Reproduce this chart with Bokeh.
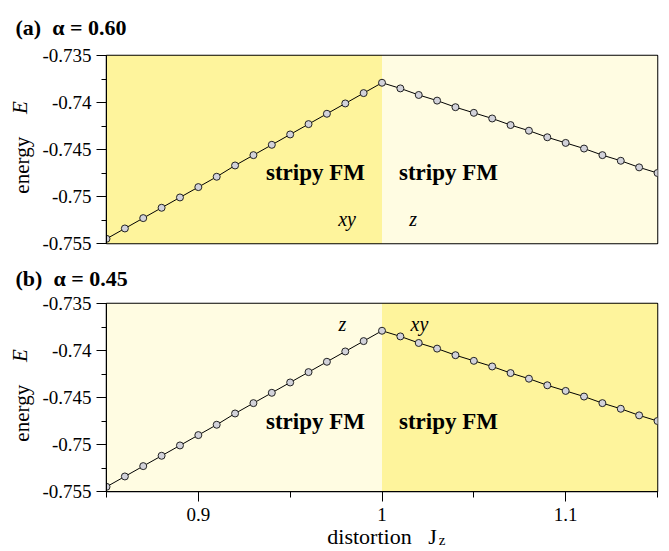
from bokeh.plotting import figure
from bokeh.layouts import column
from bokeh.models import FixedTicker, LinearAxis, Range1d
from bokeh.embed import file_html
from bokeh.resources import INLINE

# ---- data ----
jz = [0.85, 0.86, 0.87, 0.88, 0.89, 0.90, 0.91, 0.92, 0.93, 0.94, 0.95, 0.96,
      0.97, 0.98, 0.99, 1.00, 1.01, 1.02, 1.03, 1.04, 1.05, 1.06, 1.07, 1.08,
      1.09, 1.10, 1.11, 1.12, 1.13, 1.14, 1.15]
energy_a = [-0.7545, -0.7534, -0.7523, -0.7512, -0.7501, -0.7490, -0.7479, -0.7467,
            -0.7456, -0.7445, -0.7434, -0.7423, -0.7412, -0.7401, -0.7390, -0.7379,
            -0.7385, -0.7392, -0.7398, -0.7405, -0.7411, -0.7417, -0.7424, -0.7430,
            -0.7437, -0.7443, -0.7449, -0.7456, -0.7462, -0.7469, -0.7475]
energy_b = [-0.7545, -0.7534, -0.7523, -0.7512, -0.7501, -0.7490, -0.7479, -0.7467,
            -0.7456, -0.7445, -0.7434, -0.7423, -0.7412, -0.7401, -0.7390, -0.7379,
            -0.7385, -0.7392, -0.7398, -0.7405, -0.7411, -0.7417, -0.7424, -0.7430,
            -0.7437, -0.7443, -0.7449, -0.7456, -0.7462, -0.7469, -0.7475]

x_range_lim = [0.85, 1.15]
y_range_lim = [-0.755, -0.735]
boundary = 1.0
x_major = [0.9, 1.0, 1.1]
x_minor = [0.85, 0.95, 1.05, 1.15]
y_major = [-0.755, -0.75, -0.745, -0.74, -0.735]
y_minor = [-0.7525, -0.7475, -0.7425, -0.7375]
y_labels = {-0.755: "-0.755", -0.75: "-0.75", -0.745: "-0.745", -0.74: "-0.74", -0.735: "-0.735"}
x_labels = {0.9: "0.9", 1.0: "1", 1.1: "1.1"}

NB = "\u00a0"
titles = ["(a)" + NB * 2 + "\u03b1 = 0.60", "(b)" + NB * 2 + "\u03b1 = 0.45"]
phase_name = "stripy FM"
bond_a = ["xy", "z"]
bond_b = ["z", "xy"]

DARK = "#FEF49C"
LIGHT = "#FFFCE2"
SERIF = "Liberation Serif"


def make_panel(energy, title, left_color, right_color, height, top, bottom, show_x, title_standoff):
    p = figure(width=669, height=height, output_backend="svg", toolbar_location=None,
               x_range=Range1d(*x_range_lim), y_range=Range1d(*y_range_lim),
               min_border_left=106, min_border_right=12,
               min_border_top=top, min_border_bottom=bottom, title=title)
    p.grid.visible = False
    p.outline_line_color = "black"
    p.outline_line_width = 1.5
    p.outline_line_alpha = 1.0
    p.background_fill_color = "white"
    p.border_fill_color = "white"

    p.title.align = "left"
    p.title.offset = -91
    p.title.standoff = title_standoff
    p.title.vertical_align = "top"
    p.title.text_font = SERIF
    p.title.text_font_style = "bold"
    p.title.text_font_size = "22px"
    p.title.text_color = "black"

    p.quad(left=[x_range_lim[0]], right=[boundary], bottom=[y_range_lim[0]], top=[y_range_lim[1]],
           fill_color=left_color, line_color=None)
    p.quad(left=[boundary], right=[x_range_lim[1]], bottom=[y_range_lim[0]], top=[y_range_lim[1]],
           fill_color=right_color, line_color=None)

    p.line(jz, energy, line_color="black", line_width=1)
    p.scatter(jz, energy, size=7, fill_color="#D2D2DA", line_color="#222222", line_width=1)

    ya = p.yaxis[0]
    ya.ticker = FixedTicker(ticks=y_major, minor_ticks=y_minor)
    ya.major_label_overrides = y_labels
    ya.major_tick_out = 10
    ya.major_tick_in = 0
    ya.minor_tick_out = 5
    ya.minor_tick_in = 0
    ya.major_label_standoff = 5
    ya.major_label_text_font = SERIF
    ya.major_label_text_font_size = "19px"
    ya.major_label_text_color = "black"
    ya.axis_line_color = "black"
    ya.major_tick_line_color = "black"
    ya.minor_tick_line_color = "black"
    ya.axis_label = "energy" + NB * 6
    ya.axis_label_standoff = 5
    ya.axis_label_text_font = SERIF
    ya.axis_label_text_font_style = "normal"
    ya.axis_label_text_font_size = "21px"
    ya.axis_label_text_color = "black"

    # second (label-only) axis carrying the italic E
    ea = LinearAxis(ticker=FixedTicker(ticks=[]), axis_line_color=None,
                    major_tick_line_color=None, minor_tick_line_color=None,
                    major_label_text_font_size="0px",
                    axis_label=NB * 16 + "E", axis_label_standoff=-24,
                    axis_label_text_font=SERIF, axis_label_text_font_style="italic",
                    axis_label_text_font_size="21px", axis_label_text_color="black")
    p.add_layout(ea, "left")

    xa = p.xaxis[0]
    if show_x:
        xa.ticker = FixedTicker(ticks=x_major, minor_ticks=x_minor)
        xa.major_label_overrides = x_labels
        xa.major_tick_out = 10
        xa.major_tick_in = 0
        xa.minor_tick_out = 6
        xa.minor_tick_in = 0
        xa.major_label_standoff = 6
        xa.major_label_text_font = SERIF
        xa.major_label_text_font_size = "19px"
        xa.major_label_text_color = "black"
        xa.axis_line_color = "black"
        xa.major_tick_line_color = "black"
        xa.minor_tick_line_color = "black"
        xa.axis_label = "distortion" + NB * 3 + "J"
        xa.axis_label_standoff = 0
        xa.axis_label_text_font = SERIF
        xa.axis_label_text_font_style = "normal"
        xa.axis_label_text_font_size = "22px"
        xa.axis_label_text_color = "black"
        # label-only axis carrying the subscript z
        za = LinearAxis(ticker=FixedTicker(ticks=[]), axis_line_color=None,
                        major_tick_line_color=None, minor_tick_line_color=None,
                        major_label_text_font_size="0px",
                        axis_label=NB * 32 + "z", axis_label_standoff=-20,
                        axis_label_text_font=SERIF, axis_label_text_font_style="normal",
                        axis_label_text_font_size="15px", axis_label_text_color="black")
        p.add_layout(za, "below")
    else:
        xa.visible = False
    return p


pa = make_panel(energy_a, titles[0], DARK, LIGHT, 254, 51, 11, False, 28)
pb = make_panel(energy_b, titles[1], LIGHT, DARK, 297, 45, 59, True, 22)

for p, ylev in ((pa, -0.7474), (pb, -0.7475)):
    p.text(x=[0.9638, 1.0362], y=[ylev, ylev], text=[phase_name, phase_name],
           text_font=SERIF, text_font_style="bold", text_font_size="23px",
           text_align="center", text_baseline="middle", text_color="black")

pa.text(x=[0.981, 1.017], y=[-0.7524, -0.7524], text=bond_a,
        text_font=SERIF, text_font_style="italic", text_font_size="20px",
        text_align="center", text_baseline="middle", text_color="black")
pb.text(x=[0.9785, 1.0204], y=[-0.7372, -0.7372], text=bond_b,
        text_font=SERIF, text_font_style="italic", text_font_size="20px",
        text_align="center", text_baseline="middle", text_color="black")

layout = column(pa, pb, spacing=0)
open("out.html", "w").write(file_html(layout, INLINE))
